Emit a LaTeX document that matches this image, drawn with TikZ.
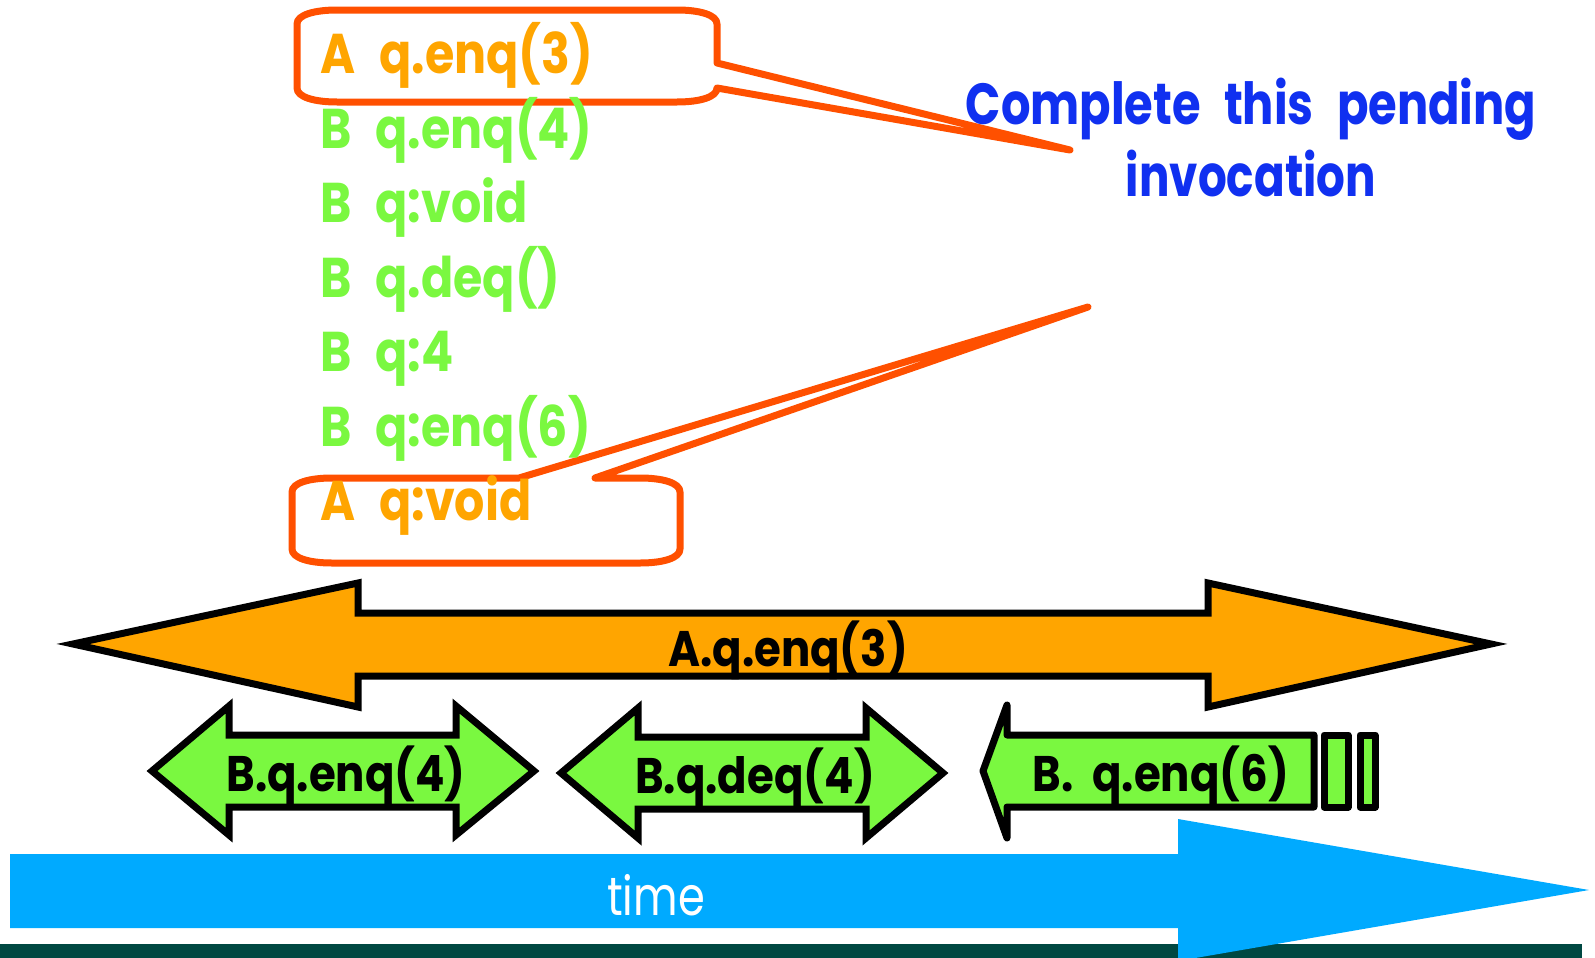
\documentclass[tikz,border=0pt]{standalone}
\usepackage{graphicx}
\usepackage{fontspec}
\newfontfamily\cfont{Poppins}
\definecolor{calloutred}{RGB}{255,80,0}
\definecolor{aorange}{RGB}{255,165,0}
\definecolor{bgreen}{RGB}{122,248,64}
\definecolor{tblue}{RGB}{16,48,240}
\definecolor{timeblue}{RGB}{0,170,255}
\definecolor{band}{RGB}{0,72,66}
\newcommand{\sx}[2]{\scalebox{#1}[1]{#2}}
\newcommand{\gap}{\hspace{0.5em}}
\tikzset{
  callout/.style={draw=calloutred, line width=3.5pt, line join=round},
  arrowshape/.style={draw=black, line width=3.5pt, line join=miter},
  roundshape/.style={draw=black, line width=3.5pt, line join=round},
  listA/.style={anchor=base west, inner sep=0pt, text=aorange, font=\cfont\bfseries\fontsize{28}{30}\selectfont},
  listB/.style={anchor=base west, inner sep=0pt, text=bgreen, font=\cfont\bfseries\fontsize{28}{30}\selectfont},
  note/.style={anchor=base, inner sep=0pt, text=tblue, font=\cfont\bfseries\fontsize{29}{31}\selectfont},
  arrlabel/.style={anchor=base, inner sep=0pt, text=black, font=\cfont\bfseries\fontsize{25}{27}\selectfont},
}
\begin{document}
\begin{tikzpicture}[x=0.5pt,y=-0.5pt]
\useasboundingbox (0,0) rectangle (1595,958);
% bottom band
\fill[band] (0,944) rectangle (1582,958);
% time arrow
\fill[timeblue] (10,854) -- (1178,854) -- (1178,819) -- (1589,890) -- (1178,961) -- (1178,928) -- (10,928) -- cycle;
\node[anchor=base, inner sep=0pt, text=white, font=\cfont\fontsize{27}{29}\selectfont] (time) at (656,915) {\sx{0.8}{time}};
% callouts
\coordinate (tipA) at (1070,150);
\coordinate (tipB) at (1088,307);
\draw[callout] (717,63) -- (tipA) -- (717,88) .. controls (717,97) and (700,102) .. (677,102) -- (337,102) .. controls (314,102) and (297,97) .. (297,88) -- (297,24) .. controls (297,15) and (314,10) .. (337,10) -- (677,10) .. controls (700,10) and (717,15) .. (717,24) -- cycle;
\draw[callout] (519,478) -- (tipB) -- (595,478) -- (640,478) .. controls (663,478) and (680,483) .. (680,492) -- (680,549) .. controls (680,558) and (663,563) .. (640,563) -- (332,563) .. controls (309,563) and (292,558) .. (292,549) -- (292,492) .. controls (292,483) and (309,478) .. (332,478) -- cycle;
% list
\node[listA] (l1) at (320,73) {\sx{0.85}{A\gap q.enq(3)}};
\node[listB] (l2) at (320,148) {\sx{0.85}{B\gap q.enq(4)}};
\node[listB] (l3) at (320,222) {\sx{0.85}{B\gap q:void}};
\node[listB] (l4) at (320,297) {\sx{0.85}{B\gap q.deq()}};
\node[listB] (l5) at (320,371) {\sx{0.85}{B\gap q:4}};
\node[listB] (l6) at (320,446) {\sx{0.85}{B\gap q:enq(6)}};
\node[listA] (l7) at (320,520) {\sx{0.85}{A\gap q:void}};
% note
\node[note] (n1) at (1251,124) {\sx{0.8}{Complete\gap this\gap pending}};
\node[note] (n2) at (1251,196) {\sx{0.78}{invocation}};
% big orange arrow
\filldraw[arrowshape, fill=aorange] (73,644) -- (358,583) -- (358,613) -- (1208,613) -- (1208,583) -- (1491,644) -- (1208,707) -- (1208,676) -- (358,676) -- (358,707) -- cycle;
\node[arrlabel] (aq) at (788,666) {\sx{0.87}{A.q.enq(3)}};
% green arrows
\filldraw[arrowshape, fill=bgreen] (152,771) -- (229,706) -- (229,735) -- (456,735) -- (456,706) -- (534,771) -- (456,835) -- (456,807) -- (229,807) -- (229,835) -- cycle;
\node[arrlabel] (b1) at (346,791) {\sx{0.87}{B.q.enq(4)}};
\filldraw[arrowshape, fill=bgreen] (561,773) -- (638,708) -- (638,737) -- (866,737) -- (866,708) -- (943,773) -- (866,838) -- (866,809) -- (638,809) -- (638,838) -- cycle;
\node[arrlabel] (b2) at (755,793) {\sx{0.87}{B.q.deq(4)}};
\filldraw[roundshape, fill=bgreen] (983,771) -- (1007,705) -- (1007,735) -- (1314,735) -- (1314,807) -- (1007,807) -- (1007,838) -- cycle;
\filldraw[roundshape, fill=bgreen] (1324,735) rectangle (1348,807);
\filldraw[roundshape, fill=bgreen] (1360,735) rectangle (1375,807);
\node[arrlabel] (b3) at (1161,791) {\sx{0.87}{B.\ \ q.enq(6)}};
\end{tikzpicture}
\end{document}
